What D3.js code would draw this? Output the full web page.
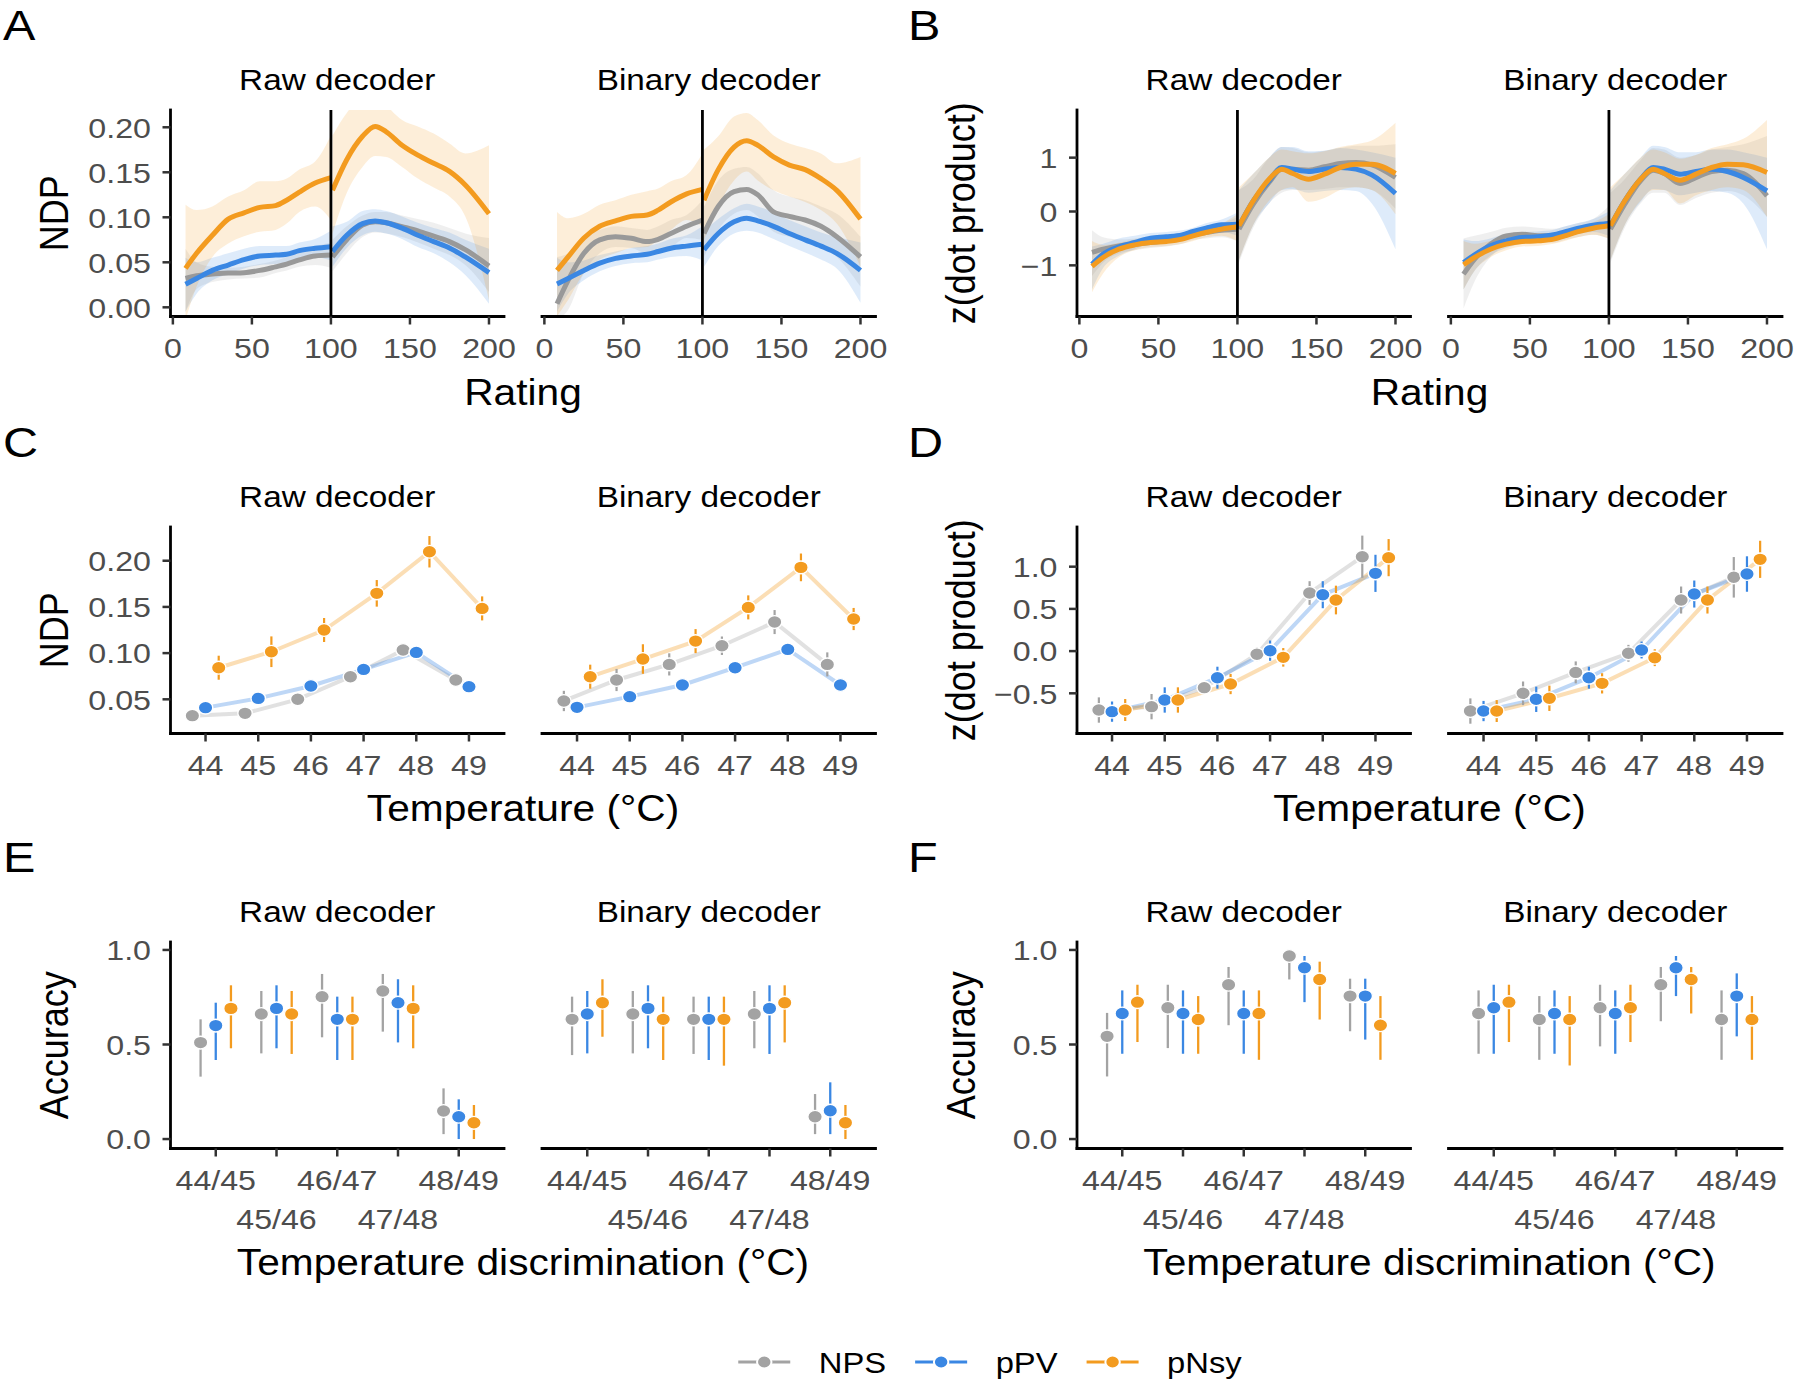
<!DOCTYPE html>
<html><head><meta charset="utf-8">
<script src="https://cdn.jsdelivr.net/npm/d3@7"></script>
<style>
body{margin:0;background:#fff}
svg{display:block}
text{font-family:'Liberation Sans',Arial,Helvetica,sans-serif}
</style>
</head><body>
<svg id="chart" width="1800" height="1385"></svg>
<script>
// ---------------- DATA ----------------
const seriesNames = ["NPS", "pPV", "pNsy"];
const seriesColors = ["#a3a3a3", "#3a87e3", "#f39b1f"];
const smoothColors = ["#999999", "#3a87e3", "#f39b1f"];
const facetNames = ["Raw decoder", "Binary decoder"];

// Rating axis (panels A, B); two fitted segments: ratings <100 and >100
const ratingX = [8,15,25,35,45,55,65,72,80,90,100, 101,110,120,128,135,145,155,165,175,185,200];
const ratingTicks = [0, 50, 100, 150, 200];

// Panel A (NDP vs rating) - Raw decoder
const aRawNpsFit  = [.032,.035,.037,.038,.0385,.041,.045,.048,.0526,.057,.058, .056,.075,.0915,.095,.094,.0896,.085,.079,.073,.064,.046];
const aRawNpsLo   = [-.005,.020,.028,.031,.032,.033,.038,.041,.045,.047,.044, .040,.060,.078,.083,.082,.078,.072,.065,.058,.047,.017];
const aRawNpsHi   = [.065,.050,.045,.044,.045,.048,.052,.056,.062,.068,.072, .075,.090,.102,.106,.106,.102,.098,.094,.088,.082,.077];
const aRawPpvFit  = [.0256,.032,.041,.047,.053,.057,.058,.059,.063,.0656,.0674, .062,.080,.093,.096,.094,.088,.080,.073,.066,.056,.0385];
const aRawPpvLo   = [-.005,.015,.030,.037,.043,.047,.048,.050,.054,.056,.052, .045,.066,.080,.084,.082,.076,.067,.060,.050,.036,.004];
const aRawPpvHi   = [.055,.050,.055,.060,.065,.068,.068,.068,.072,.076,.085, .090,.095,.107,.109,.107,.101,.094,.088,.083,.075,.065];
const aRawPnsyFit = [.0433,.060,.080,.098,.105,.111,.113,.119,.128,.138,.144, .130,.164,.190,.201,.195,.180,.169,.160,.151,.136,.104];
const aRawPnsyLo  = [-.014,.023,.056,.071,.079,.084,.086,.093,.106,.112,.097, .082,.127,.156,.168,.167,.156,.143,.133,.123,.101,.008];
const aRawPnsyHi  = [.114,.108,.112,.123,.130,.140,.140,.143,.153,.162,.191, .191,.216,.235,.240,.225,.208,.201,.193,.182,.171,.180];
// Panel A - Binary decoder
const aBinNpsFit  = [.004,.030,.060,.075,.0785,.0767,.073,.0756,.082,.090,.097, .082,.112,.1285,.131,.125,.106,.101,.097,.090,.0785,.056];
const aBinNpsLo   = [-.014,-.003,.038,.060,.067,.066,.060,.062,.067,.077,.075, .056,.086,.104,.108,.101,.084,.0785,.075,.067,.056,.023];
const aBinNpsHi   = [.056,.060,.0785,.086,.090,.088,.086,.090,.097,.1026,.119, .112,.141,.154,.156,.149,.130,.123,.119,.112,.104,.0785];
const aBinPpvFit  = [.026,.032,.041,.049,.0544,.057,.059,.062,.0656,.068,.070, .064,.082,.095,.099,.096,.090,.082,.075,.068,.060,.041];
const aBinPpvLo   = [-.005,.015,.030,.040,.046,.049,.050,.053,.056,.057,.052, .045,.068,.082,.085,.083,.076,.068,.061,.053,.043,.005];
const aBinPpvHi   = [.055,.050,.052,.058,.062,.066,.068,.071,.076,.080,.090, .085,.098,.110,.115,.112,.106,.097,.090,.083,.078,.072];
const aBinPnsyFit = [.041,.056,.077,.090,.096,.101,.1026,.108,.117,.126,.131, .119,.153,.178,.185,.180,.167,.158,.153,.143,.130,.098];
const aBinPnsyLo  = [-.010,.008,.038,.053,.060,.066,.067,.075,.086,.097,.090, .075,.112,.141,.151,.141,.130,.123,.117,.108,.093,.045];
const aBinPnsyHi  = [.106,.099,.104,.114,.119,.125,.129,.132,.140,.147,.171, .175,.190,.212,.216,.208,.191,.182,.177,.171,.160,.167];

// Panel B (z(dot product) vs rating) - Raw decoder
const bRawNpsFit  = [-0.76,-0.70,-0.638,-0.607,-0.576,-0.545,-0.495,-0.433,-0.39,-0.347,-0.328, -0.328,0.136,0.539,0.786,0.786,0.768,0.83,0.892,0.91,0.867,0.632];
const bRawNpsLo   = [-1.20,-0.95,-0.78,-0.72,-0.68,-0.65,-0.60,-0.53,-0.50,-0.48,-0.55, -0.95,-0.30,0.15,0.35,0.40,0.40,0.42,0.45,0.45,0.40,0.05];
const bRawNpsHi   = [-0.35,-0.48,-0.52,-0.50,-0.47,-0.45,-0.40,-0.34,-0.28,-0.22,-0.10, 0.40,0.60,1.00,1.20,1.18,1.10,1.13,1.18,1.22,1.22,1.25];
const bRawPpvFit  = [-0.98,-0.79,-0.656,-0.576,-0.495,-0.47,-0.433,-0.37,-0.31,-0.248,-0.235, -0.266,0.198,0.57,0.817,0.786,0.743,0.786,0.817,0.786,0.68,0.334];
const bRawPpvLo   = [-1.45,-1.05,-0.82,-0.70,-0.60,-0.57,-0.52,-0.45,-0.40,-0.38,-0.45, -0.90,-0.25,0.15,0.40,0.42,0.35,0.38,0.40,0.38,0.15,-0.70];
const bRawPpvHi   = [-0.65,-0.60,-0.50,-0.45,-0.40,-0.38,-0.35,-0.30,-0.22,-0.15,-0.02, 0.40,0.70,1.00,1.20,1.20,1.12,1.13,1.18,1.15,1.10,1.00];
const bRawPnsyFit = [-1.02,-0.854,-0.70,-0.62,-0.576,-0.557,-0.514,-0.452,-0.39,-0.328,-0.285, -0.266,0.198,0.60,0.786,0.706,0.60,0.693,0.817,0.879,0.879,0.706];
const bRawPnsyLo  = [-1.50,-1.15,-0.85,-0.72,-0.66,-0.64,-0.60,-0.55,-0.48,-0.45,-0.55, -0.90,-0.25,0.20,0.40,0.45,0.18,0.25,0.40,0.45,0.40,-0.05];
const bRawPnsyHi  = [-0.55,-0.62,-0.58,-0.52,-0.48,-0.46,-0.43,-0.38,-0.30,-0.22,-0.05, 0.45,0.70,1.00,1.15,1.12,1.08,1.12,1.20,1.25,1.32,1.65];
// Panel B - Binary decoder
const bBinNpsFit  = [-1.164,-0.885,-0.607,-0.452,-0.421,-0.452,-0.452,-0.409,-0.359,-0.285,-0.223, -0.328,0.136,0.57,0.768,0.706,0.52,0.63,0.743,0.768,0.706,0.291];
const bBinNpsLo   = [-1.80,-1.30,-0.85,-0.62,-0.56,-0.58,-0.58,-0.53,-0.48,-0.43,-0.50, -0.95,-0.30,0.15,0.35,0.35,0.12,0.25,0.35,0.38,0.30,-0.10];
const bBinNpsHi   = [-0.50,-0.45,-0.38,-0.30,-0.28,-0.30,-0.32,-0.28,-0.22,-0.14,0.10, 0.35,0.60,0.95,1.18,1.15,1.00,1.05,1.15,1.20,1.25,1.40];
const bBinPpvFit  = [-0.947,-0.805,-0.638,-0.545,-0.483,-0.47,-0.433,-0.378,-0.316,-0.254,-0.223, -0.266,0.198,0.60,0.817,0.786,0.693,0.743,0.786,0.743,0.632,0.384];
const bBinPpvLo   = [-1.45,-1.10,-0.82,-0.68,-0.60,-0.58,-0.53,-0.47,-0.42,-0.38,-0.45, -0.90,-0.25,0.18,0.42,0.40,0.30,0.35,0.38,0.35,0.15,-0.70];
const bBinPpvHi   = [-0.52,-0.55,-0.50,-0.42,-0.38,-0.37,-0.34,-0.28,-0.22,-0.14,0.00, 0.40,0.70,1.00,1.22,1.20,1.10,1.10,1.15,1.15,1.10,1.00];
const bBinPnsyFit = [-0.99,-0.854,-0.70,-0.607,-0.557,-0.545,-0.514,-0.452,-0.378,-0.31,-0.266, -0.266,0.198,0.60,0.786,0.706,0.58,0.693,0.817,0.879,0.867,0.724];
const bBinPnsyLo  = [-1.45,-1.10,-0.85,-0.72,-0.65,-0.64,-0.60,-0.55,-0.48,-0.43,-0.50, -0.90,-0.25,0.20,0.40,0.40,0.15,0.30,0.40,0.45,0.40,-0.10];
const bBinPnsyHi  = [-0.55,-0.60,-0.55,-0.50,-0.47,-0.45,-0.42,-0.36,-0.28,-0.20,-0.05, 0.45,0.70,1.00,1.15,1.10,0.98,1.05,1.18,1.25,1.35,1.70];

// Panels C, D: temperature
const temps = [44, 45, 46, 47, 48, 49];
const cRawNps  = [0.0323,0.0348,0.050,0.0745,0.1034,0.0709];
const cRawNpsSe  = [0.004,0.004,0.004,0.004,0.004,0.004];
const cRawPpv  = [0.041,0.051,0.0644,0.0824,0.1008,0.0637];
const cRawPpvSe  = [0.004,0.004,0.004,0.004,0.004,0.004];
const cRawPnsy = [0.0842,0.1015,0.125,0.1647,0.2097,0.1484];
const cRawPnsySe = [0.013,0.0166,0.013,0.0144,0.017,0.013];
const cBinNps  = [0.0482,0.0709,0.0878,0.108,0.1336,0.0878];
const cBinNpsSe  = [0.011,0.012,0.012,0.010,0.013,0.013];
const cBinPpv  = [0.0413,0.0529,0.0655,0.0842,0.104,0.0655];
const cBinPpvSe  = [0.005,0.005,0.005,0.005,0.005,0.005];
const cBinPnsy = [0.0745,0.0936,0.113,0.1495,0.1928,0.1369];
const cBinPnsySe = [0.013,0.016,0.013,0.013,0.015,0.012];

const dRawNps  = [-0.698,-0.658,-0.433,-0.038,0.688,1.118];
const dRawNpsSe  = [0.15,0.15,0.05,0.08,0.14,0.25];
const dRawPpv  = [-0.717,-0.579,-0.315,0.005,0.668,0.921];
const dRawPpvSe  = [0.12,0.15,0.13,0.12,0.16,0.22];
const dRawPnsy = [-0.698,-0.579,-0.39,-0.074,0.605,1.107];
const dRawPnsySe = [0.13,0.15,0.12,0.11,0.17,0.22];
const dBinNps  = [-0.71,-0.50,-0.252,-0.026,0.605,0.874];
const dBinNpsSe  = [0.15,0.14,0.13,0.10,0.16,0.24];
const dBinPpv  = [-0.71,-0.571,-0.315,0.013,0.676,0.913];
const dBinPpvSe  = [0.12,0.15,0.13,0.10,0.16,0.21];
const dBinPnsy = [-0.71,-0.559,-0.382,-0.078,0.605,1.087];
const dBinPnsySe = [0.13,0.15,0.12,0.10,0.16,0.22];

// Panels E, F: temperature discrimination accuracy
const pairs = ["44/45", "45/46", "46/47", "47/48", "48/49"];
const eRawNps = [0.51,0.661,0.753,0.783,0.148],  eRawNpsLo = [0.33,0.453,0.538,0.568,0.026],  eRawNpsHi = [0.633,0.783,0.873,0.873,0.268];
const eRawPpv = [0.60,0.691,0.633,0.721,0.118],  eRawPpvLo = [0.418,0.48,0.418,0.511,0.0],    eRawPpvHi = [0.721,0.813,0.753,0.845,0.21];
const eRawPnsy = [0.691,0.661,0.633,0.691,0.086], eRawPnsyLo = [0.48,0.45,0.418,0.48,0.0],    eRawPnsyHi = [0.813,0.783,0.753,0.813,0.18];
const eBinNps = [0.633,0.661,0.633,0.661,0.118], eBinNpsLo = [0.444,0.453,0.45,0.48,0.026],   eBinNpsHi = [0.753,0.783,0.753,0.783,0.238];
const eBinPpv = [0.661,0.691,0.633,0.691,0.15],  eBinPpvLo = [0.453,0.48,0.418,0.45,0.026],   eBinPpvHi = [0.783,0.813,0.753,0.813,0.3];
const eBinPnsy = [0.721,0.633,0.633,0.721,0.086], eBinPnsyLo = [0.541,0.418,0.388,0.511,0.0], eBinPnsyHi = [0.845,0.753,0.753,0.813,0.18];
const fRawNps = [0.543,0.694,0.816,0.968,0.756], fRawNpsLo = [0.331,0.481,0.602,0.844,0.57],  fRawNpsHi = [0.667,0.816,0.91,1.0,0.848];
const fRawPpv = [0.664,0.664,0.664,0.906,0.756], fRawPpvLo = [0.451,0.451,0.451,0.724,0.526], fRawPpvHi = [0.786,0.786,0.786,0.968,0.848];
const fRawPnsy = [0.724,0.632,0.664,0.844,0.602], fRawPnsyLo = [0.513,0.451,0.419,0.632,0.419], fRawPnsyHi = [0.816,0.756,0.786,0.938,0.756];
const fBinNps = [0.664,0.632,0.694,0.816,0.632], fBinNpsLo = [0.451,0.419,0.49,0.623,0.419],  fBinNpsHi = [0.786,0.756,0.816,0.91,0.786];
const fBinPpv = [0.694,0.664,0.664,0.906,0.756], fBinPpvLo = [0.451,0.451,0.451,0.756,0.543], fBinPpvHi = [0.816,0.786,0.786,0.968,0.876];
const fBinPnsy = [0.724,0.632,0.694,0.844,0.632], fBinPnsyLo = [0.513,0.389,0.513,0.664,0.419], fBinPnsyHi = [0.816,0.756,0.816,0.91,0.756];

// ---------------- LAYOUT / STYLE ----------------
const SX = 1.13;               // horizontal glyph stretch of the reference
const TICK_FS = 28.5, STRIP_FS = 29.5, TITLE_FS = 36, LETTER_FS = 43, LEGEND_FS = 29;
const colLeft = [170.5, 1077], facetW = 333.5, facetGap = 38;
const rowTop = [110, 527, 942], panelH = 206.5;
const PT_R = 6.4;

const svg = d3.select("#chart");
svg.append("rect").attr("width", 1800).attr("height", 1385).attr("fill", "#fff");
let clipId = 0;

function facetX(col, f) { const a = colLeft[col] + f * (facetW + facetGap); return [a, a + facetW]; }

function addText(parent, x, y, str, size, opts = {}) {
  return parent.append("text")
    .attr("transform", `translate(${x},${y}) scale(${SX},1)` + (opts.rotate ? " rotate(-90)" : ""))
    .attr("text-anchor", opts.anchor || "middle")
    .style("font-size", size + "px")
    .attr("fill", opts.fill || "#000")
    .text(str);
}
function styleAxis(ax) {
  ax.attr("font-size", null).attr("font-family", null);
  ax.select(".domain").attr("stroke", "#000").attr("stroke-width", 2.8).attr("stroke-linecap", "square");
  ax.selectAll(".tick line").attr("stroke", "#333").attr("stroke-width", 2.5);
  ax.selectAll(".tick text").attr("fill", "#4d4d4d").style("font-size", TICK_FS + "px");
}
function drawYAxis(g, y, x0, ticks, fmt) {
  const ax = g.append("g").attr("transform", `translate(${x0},0)`)
    .call(d3.axisLeft(y).tickValues(ticks).tickFormat(fmt).tickSize(8).tickSizeOuter(0).offset(0));
  styleAxis(ax);
  ax.selectAll(".tick text").attr("x", -19.5 / SX).attr("dy", "0.36em").attr("transform", `scale(${SX},1)`);
}
function drawXAxis(g, x, yb, ticks, fmt, twoRow) {
  const axis = d3.axisBottom(x).tickSize(8).tickSizeOuter(0).offset(0);
  if (ticks) axis.tickValues(ticks);
  if (fmt) axis.tickFormat(fmt);
  const ax = g.append("g").attr("transform", `translate(0,${yb})`).call(axis);
  styleAxis(ax);
  ax.selectAll(".tick text").attr("y", (d, i) => (twoRow && i % 2 === 1) ? 81 : 42).attr("dy", null)
    .attr("transform", `scale(${SX},1)`);
}
function panelDecor(col, row, letter, yTitle, xTitle, xTitleOff) {
  const y0 = rowTop[row], y1 = y0 + panelH;
  const [a] = facetX(col, 0), [, b] = facetX(col, 1);
  addText(svg, col === 0 ? 3 : 908, y0 - 70, letter, LETTER_FS, { anchor: "start" });
  addText(svg, colLeft[col] - 102.5, (y0 + y1) / 2, yTitle, TITLE_FS, { rotate: true });
  addText(svg, (a + b) / 2, y1 + xTitleOff, xTitle, TITLE_FS);
  for (let f = 0; f < 2; f++) {
    const [xa, xb] = facetX(col, f);
    addText(svg, (xa + xb) / 2, y0 - 20, facetNames[f], STRIP_FS);
  }
}
function makeClip(xa, xb, y0, y1) {
  const id = "clip" + (clipId++);
  svg.append("clipPath").attr("id", id).append("rect").attr("x", xa).attr("y", y0).attr("width", xb - xa).attr("height", y1 - y0);
  return id;
}

// ---- smooth panels (A, B) ----
function drawSmooth(col, row, yDomain, yTicks, yFmt, fits, los, his) {
  const y0 = rowTop[row], y1 = y0 + panelH;
  const y = d3.scaleLinear().domain(yDomain).range([y1, y0]);
  const segs = [d3.range(0, 11), d3.range(11, 22)];
  for (let f = 0; f < 2; f++) {
    const [xa, xb] = facetX(col, f);
    const x = d3.scaleLinear().domain([-1.5, 209.5]).range([xa, xb]);
    const g = svg.append("g");
    const cg = g.append("g").attr("clip-path", `url(#${makeClip(xa, xb, y0, y1)})`);
    for (let s = 0; s < 3; s++) {
      for (const idx of segs) {
        const area = d3.area().curve(d3.curveMonotoneX).x(i => x(ratingX[i])).y0(i => y(los[f][s][i])).y1(i => y(his[f][s][i]));
        cg.append("path").attr("d", area(idx)).attr("fill", seriesColors[s]).attr("fill-opacity", 0.17);
      }
    }
    for (let s = 0; s < 3; s++) {
      for (const idx of segs) {
        const line = d3.line().curve(d3.curveMonotoneX).x(i => x(ratingX[i])).y(i => y(fits[f][s][i]));
        cg.append("path").attr("d", line(idx)).attr("fill", "none").attr("stroke", smoothColors[s]).attr("stroke-width", 5);
      }
    }
    g.append("line").attr("x1", x(100)).attr("x2", x(100)).attr("y1", y0).attr("y2", y1).attr("stroke", "#000").attr("stroke-width", 2.8);
    drawXAxis(g, x, y1, ratingTicks, d3.format("d"), false);
    if (f === 0) drawYAxis(g, y, xa, yTicks, yFmt);
  }
}

// ---- dot panels (C, D) ----
function drawDots(col, row, yDomain, yTicks, yFmt, vals, ses) {
  const y0 = rowTop[row], y1 = y0 + panelH;
  const y = d3.scaleLinear().domain(yDomain).range([y1, y0]);
  for (let f = 0; f < 2; f++) {
    const [xa, xb] = facetX(col, f);
    const x = d3.scalePoint().domain(temps).range([xa, xb]).padding(0.665);
    const off = [-0.25, 0, 0.25].map(k => k * x.step());
    const g = svg.append("g");
    for (let s = 0; s < 3; s++) {
      const line = d3.line().x((d, i) => x(temps[i]) + off[s]).y(d => y(d));
      g.append("path").attr("d", line(vals[f][s])).attr("fill", "none").attr("stroke", seriesColors[s])
        .attr("stroke-opacity", 0.33).attr("stroke-width", 4);
    }
    for (let s = 0; s < 3; s++) {
      vals[f][s].forEach((v, i) => {
        const cx = x(temps[i]) + off[s];
        g.append("line").attr("x1", cx).attr("x2", cx).attr("y1", y(v - ses[f][s][i])).attr("y2", y(v + ses[f][s][i]))
          .attr("stroke", seriesColors[s]).attr("stroke-width", 2.2);
        g.append("ellipse").attr("cx", cx).attr("cy", y(v)).attr("rx", PT_R * SX).attr("ry", PT_R)
          .attr("fill", seriesColors[s]).attr("stroke", "#fff").attr("stroke-width", 1.4);
      });
    }
    drawXAxis(g, x, y1, null, null, false);
    if (f === 0) drawYAxis(g, y, xa, yTicks, yFmt);
  }
}

// ---- accuracy panels (E, F) ----
function drawAcc(col, row, vals, los, his) {
  const y0 = rowTop[row], y1 = y0 + panelH;
  const y = d3.scaleLinear().domain([-0.05, 1.042]).range([y1, y0]);
  for (let f = 0; f < 2; f++) {
    const [xa, xb] = facetX(col, f);
    const x = d3.scalePoint().domain(pairs).range([xa, xb]).padding(0.745);
    const off = [-0.25, 0, 0.25].map(k => k * x.step());
    const g = svg.append("g");
    for (let s = 0; s < 3; s++) {
      vals[f][s].forEach((v, i) => {
        const cx = x(pairs[i]) + off[s];
        g.append("line").attr("x1", cx).attr("x2", cx).attr("y1", y(los[f][s][i])).attr("y2", y(his[f][s][i]))
          .attr("stroke", seriesColors[s]).attr("stroke-width", 2.3);
        g.append("ellipse").attr("cx", cx).attr("cy", y(v)).attr("rx", PT_R * SX).attr("ry", PT_R)
          .attr("fill", seriesColors[s]).attr("stroke", "#fff").attr("stroke-width", 1.4);
      });
    }
    drawXAxis(g, x, y1, null, null, true);
    if (f === 0) drawYAxis(g, y, xa, [0, 0.5, 1.0], d3.format(".1f"));
  }
}

// ---------------- BUILD ----------------
drawSmooth(0, 0, [-0.0102, 0.2192], [0, 0.05, 0.10, 0.15, 0.20], d3.format(".2f"),
  [[aRawNpsFit, aRawPpvFit, aRawPnsyFit], [aBinNpsFit, aBinPpvFit, aBinPnsyFit]],
  [[aRawNpsLo, aRawPpvLo, aRawPnsyLo], [aBinNpsLo, aBinPpvLo, aBinPnsyLo]],
  [[aRawNpsHi, aRawPpvHi, aRawPnsyHi], [aBinNpsHi, aBinPpvHi, aBinPnsyHi]]);
panelDecor(0, 0, "A", "NDP", "Rating", 88);

drawSmooth(1, 0, [-1.95, 1.885], [-1, 0, 1], d3.format("d"),
  [[bRawNpsFit, bRawPpvFit, bRawPnsyFit], [bBinNpsFit, bBinPpvFit, bBinPnsyFit]],
  [[bRawNpsLo, bRawPpvLo, bRawPnsyLo], [bBinNpsLo, bBinPpvLo, bBinPnsyLo]],
  [[bRawNpsHi, bRawPpvHi, bRawPnsyHi], [bBinNpsHi, bBinPpvHi, bBinPnsyHi]]);
panelDecor(1, 0, "B", "z(dot product)", "Rating", 88);

drawDots(0, 1, [0.013, 0.2365], [0.05, 0.10, 0.15, 0.20], d3.format(".2f"),
  [[cRawNps, cRawPpv, cRawPnsy], [cBinNps, cBinPpv, cBinPnsy]],
  [[cRawNpsSe, cRawPpvSe, cRawPnsySe], [cBinNpsSe, cBinPpvSe, cBinPnsySe]]);
panelDecor(0, 1, "C", "NDP", "Temperature (°C)", 87);

drawDots(1, 1, [-0.976, 1.470], [-0.5, 0, 0.5, 1.0], d3.format(".1f"),
  [[dRawNps, dRawPpv, dRawPnsy], [dBinNps, dBinPpv, dBinPnsy]],
  [[dRawNpsSe, dRawPpvSe, dRawPnsySe], [dBinNpsSe, dBinPpvSe, dBinPnsySe]]);
panelDecor(1, 1, "D", "z(dot product)", "Temperature (°C)", 87);

drawAcc(0, 2,
  [[eRawNps, eRawPpv, eRawPnsy], [eBinNps, eBinPpv, eBinPnsy]],
  [[eRawNpsLo, eRawPpvLo, eRawPnsyLo], [eBinNpsLo, eBinPpvLo, eBinPnsyLo]],
  [[eRawNpsHi, eRawPpvHi, eRawPnsyHi], [eBinNpsHi, eBinPpvHi, eBinPnsyHi]]);
panelDecor(0, 2, "E", "Accuracy", "Temperature discrimination (°C)", 126);

drawAcc(1, 2,
  [[fRawNps, fRawPpv, fRawPnsy], [fBinNps, fBinPpv, fBinPnsy]],
  [[fRawNpsLo, fRawPpvLo, fRawPnsyLo], [fBinNpsLo, fBinPpvLo, fBinPnsyLo]],
  [[fRawNpsHi, fRawPpvHi, fRawPnsyHi], [fBinNpsHi, fBinPpvHi, fBinPnsyHi]]);
panelDecor(1, 2, "F", "Accuracy", "Temperature discrimination (°C)", 126);

// ---------------- LEGEND ----------------
(function legend() {
  const cy = 1362, keyW = 52, textOff = 80.5, itemGap = 29;
  const lg = svg.append("g");
  let x = 0;
  seriesNames.forEach((name, s) => {
    const it = lg.append("g").attr("transform", `translate(${x},0)`);
    it.append("line").attr("x1", 0).attr("x2", keyW).attr("y1", cy).attr("y2", cy).attr("stroke", seriesColors[s]).attr("stroke-width", 3);
    it.append("ellipse").attr("cx", keyW / 2).attr("cy", cy).attr("rx", PT_R * SX).attr("ry", PT_R).attr("fill", seriesColors[s]).attr("stroke", "#fff").attr("stroke-width", 2);
    const t = addText(it, textOff, cy + 10.5, name, LEGEND_FS, { anchor: "start" });
    x += textOff + t.node().getComputedTextLength() * SX + itemGap;
  });
  const total = x - itemGap;
  lg.attr("transform", `translate(${990 - total / 2},0)`);
})();
</script>
</body></html>
